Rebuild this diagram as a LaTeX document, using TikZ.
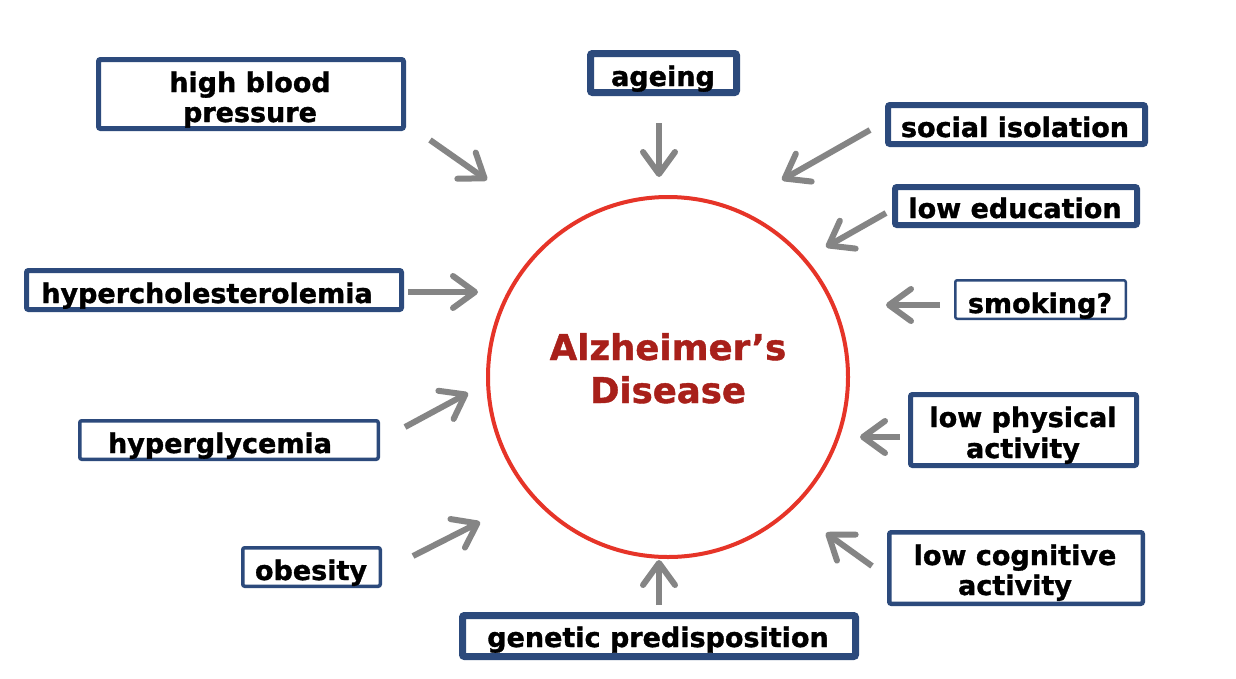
\documentclass[tikz,border=0pt]{standalone}
\usepackage{fontspec}
\setmainfont{DejaVu Sans}[BoldFeatures={FakeBold=1.2}]
\usetikzlibrary{arrows.meta}
\definecolor{navy}{RGB}{44,74,124}
\definecolor{adred}{RGB}{230,52,40}
\definecolor{adtext}{RGB}{168,32,26}
\definecolor{arrgray}{RGB}{133,133,133}
\begin{document}
\begin{tikzpicture}[x=1pt,y=-1pt,
  box/.style={draw=navy, fill=white, rounded corners=2pt, inner sep=0pt},
  txt/.style={font=\bfseries\fontsize{27}{30}\selectfont, inner sep=0pt, anchor=base},
  arr/.style={draw=arrgray, line width=6pt, -{Straight Barb[length=22pt,width=32pt,round]}}]
\useasboundingbox[fill=white] (0,0) rectangle (1236,678);

% central circle
\node[circle, draw=adred, line width=4pt, minimum size=360pt, inner sep=0pt] (ad) at (668,377) {};
\node[align=center, text=adtext, inner sep=0pt, font=\bfseries\fontsize{35.5}{43}\selectfont, anchor=base] (adt) at (668,403) {Alzheimer’s\\Disease};

% boxes
\node[box, line width=5pt, minimum width=305pt, minimum height=69pt] (hbp) at (251,94) {};
\node[box, line width=7pt, minimum width=146pt, minimum height=39pt] (age) at (663.5,73) {};
\node[box, line width=6pt, minimum width=257pt, minimum height=39pt] (soc) at (1016.5,124.5) {};
\node[box, line width=6pt, minimum width=242pt, minimum height=38pt] (edu) at (1016,206) {};
\node[box, line width=5pt, minimum width=375pt, minimum height=39pt] (chol) at (214,290) {};
\node[box, line width=2.5pt, minimum width=170.5pt, minimum height=38.5pt] (smk) at (1040.5,299.5) {};
\node[box, line width=5pt, minimum width=226pt, minimum height=71pt] (phys) at (1023.5,430) {};
\node[box, line width=3.5pt, minimum width=298.5pt, minimum height=38.5pt] (glyc) at (229,440) {};
\node[box, line width=4.5pt, minimum width=253.5pt, minimum height=71.5pt] (cog) at (1016,568) {};
\node[box, line width=3.5pt, minimum width=137.5pt, minimum height=38.5pt] (obe) at (311.5,567) {};
\node[box, line width=7pt, minimum width=393pt, minimum height=41pt] (gen) at (659,636) {};

% texts
\node[txt] (hbp1) at (250,92) {high blood};
\node[txt] (hbp2) at (250,122) {pressure};
\node[txt] (aget) at (663,86) {ageing};
\node[txt] (soct) at (1015,137) {social isolation};
\node[txt] (edut) at (1015,218) {low education};
\node[txt] (cholt) at (207,303) {hypercholesterolemia};
\node[txt] (smkt) at (1040,313) {smoking?};
\node[txt] (phys1) at (1023,427) {low physical};
\node[txt] (phys2) at (1023,458) {activity};
\node[txt] (glyct) at (220,453) {hyperglycemia};
\node[txt] (cog1) at (1015,565) {low cognitive};
\node[txt] (cog2) at (1015,595) {activity};
\node[txt] (obet) at (311,580) {obesity};
\node[txt] (gent) at (658,647) {genetic predisposition};

% arrow end points
\coordinate (hbpS) at (430,140);  \coordinate (hbpE) at (487,180);
\coordinate (ageS) at (659,123);  \coordinate (ageE) at (659,177);
\coordinate (socS) at (870,130);  \coordinate (socE) at (782,180);
\coordinate (eduS) at (886,213);  \coordinate (eduE) at (826,247);
\coordinate (cholS) at (408,292); \coordinate (cholE) at (478,292);
\coordinate (smkS) at (940,305);  \coordinate (smkE) at (886,305);
\coordinate (physS) at (900,437); \coordinate (physE) at (860,437);
\coordinate (glycS) at (405,427); \coordinate (glycE) at (468,393);
\coordinate (cogS) at (872,566);  \coordinate (cogE) at (826,533);
\coordinate (obeS) at (413,556);  \coordinate (obeE) at (480,522);
\coordinate (genS) at (659,605);  \coordinate (genE) at (659,560);

\draw[arr] (hbpS) -- (hbpE);
\draw[arr] (ageS) -- (ageE);
\draw[arr] (socS) -- (socE);
\draw[arr] (eduS) -- (eduE);
\draw[arr] (cholS) -- (cholE);
\draw[arr] (smkS) -- (smkE);
\draw[arr] (physS) -- (physE);
\draw[arr] (glycS) -- (glycE);
\draw[arr] (cogS) -- (cogE);
\draw[arr] (obeS) -- (obeE);
\draw[arr] (genS) -- (genE);
\end{tikzpicture}
\end{document}
